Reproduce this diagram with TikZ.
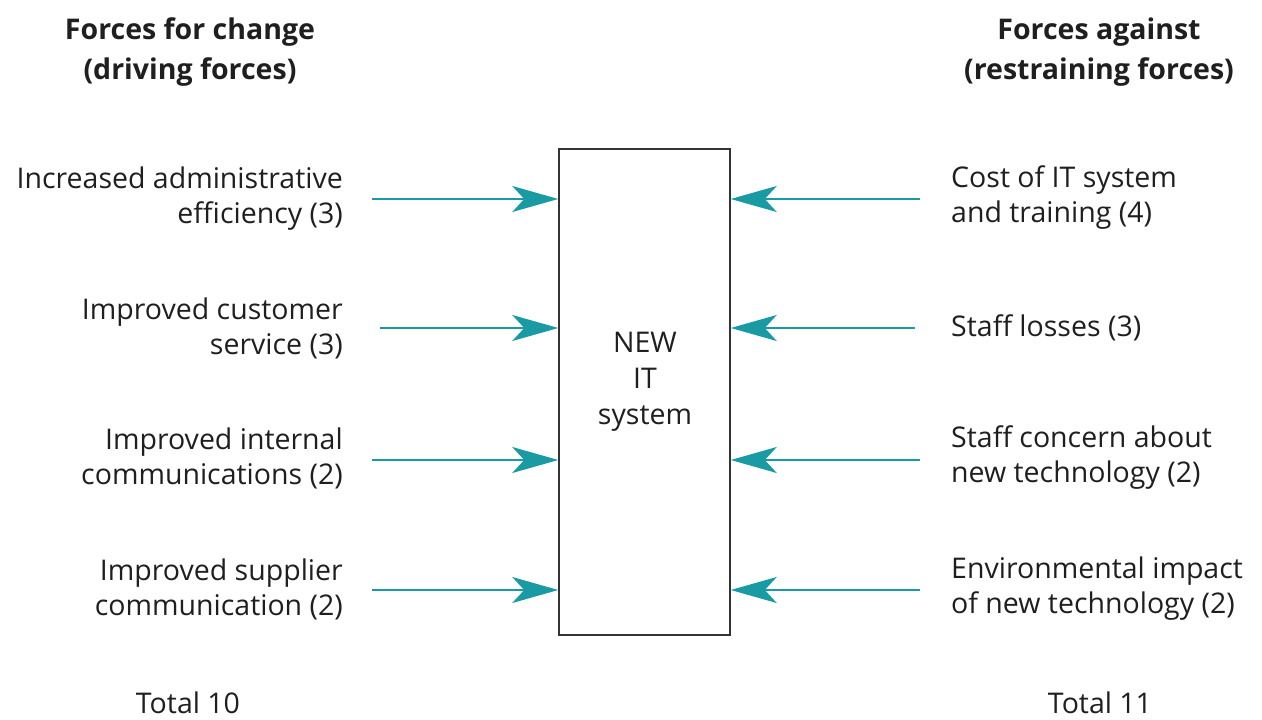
\documentclass[tikz,border=0pt]{standalone}
\usepackage{fontspec}
\setmainfont{Open Sans}
\usetikzlibrary{arrows.meta}
\definecolor{teal1}{HTML}{1A9BA3}
\tikzset{
  lbl/.style={font=\fontsize{28.5}{35}\selectfont, inner sep=0pt, text=black!88},
  hdr/.style={font=\fontsize{28.5}{40}\selectfont\bfseries, inner sep=0pt, align=center, text=black!88},
  force/.style={draw=teal1, line width=2pt, -{Stealth[length=46pt, width=26pt, inset=12pt, fill=teal1]}},
}
\begin{document}
\begin{tikzpicture}[x=1pt,y=-1pt]
\useasboundingbox (0,0) rectangle (1262,720);
\node[hdr] (hl) at (190,52) {Forces for change\\(driving forces)};
\node[hdr] (hr) at (1099,52) {Forces against\\(restraining forces)};
\node[draw=black!80, line width=1.5pt, minimum width=171pt, minimum height=486pt, inner sep=0pt] (box) at (644.5,392) {};
\node[font=\fontsize{28.5}{36}\selectfont, align=center, text=black!88, inner sep=0pt] (boxtxt) at (645,382) {NEW\\IT\\system};
% left labels
\node[lbl, align=right, anchor=east] (l1) at (343,199) {Increased administrative\\efficiency (3)};
\node[lbl, align=right, anchor=east] (l2) at (343,328) {Improved customer\\service (3)};
\node[lbl, align=right, anchor=east] (l3) at (343,458) {Improved internal\\communications (2)};
\node[lbl, align=right, anchor=east] (l4) at (343,589) {Improved supplier\\communication (2)};
% right labels
\node[lbl, align=left, anchor=west] (r1) at (951,198) {Cost of IT system\\and training (4)};
\node[lbl, align=left, anchor=west] (r2) at (951,328) {Staff losses (3)};
\node[lbl, align=left, anchor=west] (r3) at (951,458) {Staff concern about\\new technology (2)};
\node[lbl, align=left, anchor=west] (r4) at (951,589) {Environmental impact\\of new technology (2)};
% totals
\node[lbl] (t1) at (188,703) {Total 10};
\node[lbl] (t2) at (1100,703) {Total 11};
% arrow start coordinates
\coordinate (a1) at (372,199);
\coordinate (a2) at (380,328);
\coordinate (a3) at (372,460);
\coordinate (a4) at (372,590);
\coordinate (b1) at (920,199);
\coordinate (b2) at (915,328);
\coordinate (b3) at (920,460);
\coordinate (b4) at (920,590);
\draw[force] (a1) -- (a1 -| box.west);
\draw[force] (a2) -- (a2 -| box.west);
\draw[force] (a3) -- (a3 -| box.west);
\draw[force] (a4) -- (a4 -| box.west);
\draw[force] (b1) -- (b1 -| box.east);
\draw[force] (b2) -- (b2 -| box.east);
\draw[force] (b3) -- (b3 -| box.east);
\draw[force] (b4) -- (b4 -| box.east);
\end{tikzpicture}
\end{document}
